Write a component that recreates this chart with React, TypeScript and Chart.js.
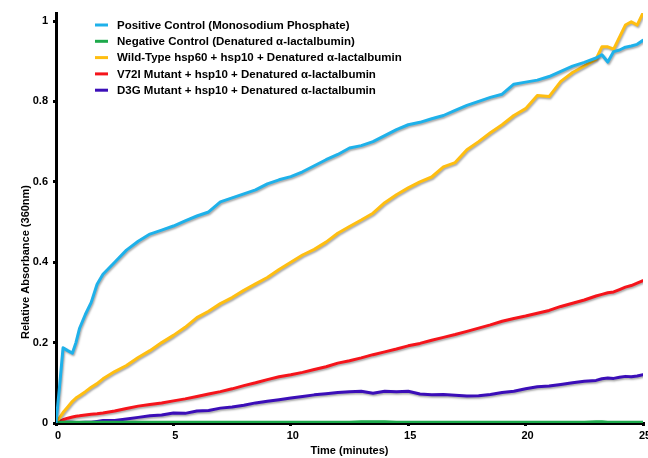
import { useEffect, useRef } from 'react';
import Chart from 'chart.js/auto';

const times = [0, 0.15, 0.3, 0.5, 0.7, 0.85, 1, 1.25, 1.5, 1.75, 2, 2.5, 3, 3.5, 4, 4.5, 5, 5.5, 6, 6.5, 7, 7.5, 8, 8.5, 9, 9.5, 10, 10.5, 11, 11.5, 12, 12.5, 13, 13.5, 14, 14.5, 15, 15.5, 16, 16.5, 17, 17.5, 18, 18.5, 19, 19.5, 20, 20.5, 21, 21.5, 22, 22.5, 23, 23.25, 23.5, 23.75, 24, 24.25, 24.5, 24.75, 25];

const positiveControl = [0, 0.09, 0.187, 0.18, 0.174, 0.2, 0.235, 0.27, 0.3, 0.345, 0.37,
  0.4, 0.43, 0.452, 0.47, 0.48, 0.49, 0.503, 0.515, 0.525, 0.55,
  0.56, 0.57, 0.58, 0.595, 0.605, 0.613, 0.625, 0.64, 0.655, 0.668,
  0.684, 0.69, 0.7, 0.715, 0.73, 0.742, 0.748, 0.757, 0.765, 0.778,
  0.79, 0.8, 0.81, 0.818, 0.843, 0.848, 0.853, 0.862, 0.875, 0.888,
  0.897, 0.908,
  0.916, 0.898, 0.924, 0.928, 0.935, 0.938, 0.942, 0.952];

const negativeControl = [0, 0.001, 0.002, 0.002, 0.002, 0.002, 0.002, 0.002, 0.002, 0.002, 0.002,
  0.002, 0.002, 0.002, 0.002, 0.002, 0.002, 0.002, 0.002, 0.002, 0.002,
  0.002, 0.002, 0.002, 0.002, 0.002, 0.002, 0.002, 0.002, 0.002, 0.002,
  0.002, 0.003, 0.003, 0.003, 0.002, 0.002, 0.002, 0.002, 0.002, 0.002,
  0.002, 0.002, 0.002, 0.002, 0.002, 0.002, 0.002, 0.002, 0.002, 0.002,
  0.002, 0.003,
  0.003, 0.002, 0.002, 0.002, 0.002, 0.002, 0.002, 0.002];

const wildType = [0, 0.013, 0.026, 0.04, 0.054, 0.062, 0.068, 0.078, 0.089, 0.098, 0.11,
  0.128, 0.143, 0.163, 0.18, 0.2, 0.218, 0.238, 0.262, 0.278, 0.297,
  0.312, 0.33, 0.346, 0.362, 0.382, 0.4, 0.418, 0.432, 0.45, 0.472,
  0.489, 0.505, 0.522, 0.548, 0.568, 0.585, 0.6, 0.612, 0.637, 0.648,
  0.68, 0.7, 0.722, 0.742, 0.765, 0.782, 0.815, 0.812, 0.85, 0.872,
  0.888, 0.905,
  0.936, 0.936, 0.93, 0.96, 0.99, 0.998, 0.99, 1.02];

const v72iMutant = [0, 0.004, 0.008, 0.012, 0.015, 0.017, 0.018, 0.02, 0.022, 0.023, 0.025,
  0.03, 0.036, 0.042, 0.046, 0.05, 0.055, 0.06, 0.066, 0.072, 0.078,
  0.085, 0.093, 0.1, 0.108, 0.115, 0.12, 0.126, 0.133, 0.14, 0.149,
  0.155, 0.162, 0.17, 0.177, 0.184, 0.192, 0.198, 0.206, 0.213, 0.22,
  0.228, 0.236, 0.244, 0.253, 0.26, 0.266, 0.273, 0.28, 0.29, 0.298,
  0.306, 0.316,
  0.32, 0.324, 0.326, 0.332, 0.338, 0.342, 0.348, 0.354];

const d3gMutant = [0, 0.001, 0.002, 0.002, 0.002, 0.001, 0.001, 0.002, 0.002, 0.004, 0.006,
  0.006, 0.01, 0.014, 0.018, 0.02, 0.025, 0.024, 0.03, 0.031, 0.037,
  0.04, 0.044, 0.05, 0.054, 0.058, 0.062, 0.066, 0.07, 0.073, 0.076,
  0.078, 0.079, 0.074, 0.079, 0.078, 0.079, 0.072, 0.07, 0.071, 0.069,
  0.067, 0.068, 0.071, 0.076, 0.079, 0.085, 0.09, 0.092, 0.096, 0.1,
  0.104, 0.106,
  0.11, 0.112, 0.111, 0.114, 0.116, 0.115, 0.117, 0.12];

const seriesNames = [
  'Positive Control (Monosodium Phosphate)',
  'Negative Control (Denatured α-lactalbumin)',
  'Wild-Type hsp60 + hsp10 + Denatured α-lactalbumin',
  'V72I Mutant + hsp10 + Denatured α-lactalbumin',
  'D3G Mutant + hsp10 + Denatured α-lactalbumin',
];
const seriesValues = [positiveControl, negativeControl, wildType, v72iMutant, d3gMutant];
const seriesColors = ['#1EB1EA', '#1DA94B', '#FFBE10', '#F5141B', '#3B0EB8'];

const xTicks = [0, 5, 10, 15, 20, 25];
const yTicks = [0, 0.2, 0.4, 0.6, 0.8, 1];
const xTitle = 'Time (minutes)';
const yTitle = 'Relative Absorbance (360nm)';

const FONT = '"Liberation Sans", Arial, sans-serif';

export default function App() {
  const ref = useRef<HTMLCanvasElement>(null);
  useEffect(() => {
    document.body.style.margin = '0';
    const shadowPlugin = {
      id: 'shadow',
      beforeDatasetsDraw(chart: any) {
        const ctx = chart.ctx;
        ctx.save();
        ctx.shadowColor = 'rgba(0,0,0,0.35)';
        ctx.shadowBlur = 2;
        ctx.shadowOffsetX = 1;
        ctx.shadowOffsetY = 1.5;
      },
      afterDatasetsDraw(chart: any) {
        chart.ctx.restore();
      },
    };
    const overlayPlugin = {
      id: 'overlay',
      afterDraw(chart: any) {
        const ctx = chart.ctx;
        const ca = chart.chartArea;
        ctx.save();
        ctx.fillStyle = '#000';
        ctx.font = `bold 11px ${FONT}`;
        ctx.textAlign = 'center';
        ctx.textBaseline = 'middle';
        ctx.fillText(xTitle, (ca.left + ca.right) / 2, 451);
        ctx.save();
        ctx.translate(25.5, 262);
        ctx.rotate(-Math.PI / 2);
        ctx.fillText(yTitle, 0, 0);
        ctx.restore();
        // legend
        ctx.font = `bold 11.5px ${FONT}`;
        ctx.textAlign = 'left';
        const y0 = 25;
        const dy = 16.3;
        seriesNames.forEach((name, i) => {
          const y = y0 + i * dy;
          ctx.strokeStyle = seriesColors[i];
          ctx.lineWidth = 3;
          ctx.beginPath();
          ctx.moveTo(95, y);
          ctx.lineTo(108, y);
          ctx.stroke();
          ctx.fillStyle = '#000';
          ctx.fillText(name, 117, y + 0.5);
        });
        ctx.restore();
      },
    };
    const chart = new Chart(ref.current!, {
      type: 'line',
      data: {
        datasets: seriesNames.map((name, i) => ({
          label: name,
          data: times.map((t, j) => ({ x: t, y: seriesValues[i][j] })),
          borderColor: seriesColors[i],
          backgroundColor: seriesColors[i],
          borderWidth: 3,
          pointRadius: 0,
          tension: 0,
          borderJoinStyle: 'round' as const,
          borderCapStyle: 'round' as const,
        })),
      },
      options: {
        responsive: false,
        animation: false,
        layout: { padding: { top: 13, right: 5, left: 0, bottom: 0 } },
        plugins: { legend: { display: false }, tooltip: { enabled: false } },
        scales: {
          x: {
            type: 'linear',
            min: 0,
            max: 25,
            afterBuildTicks: (s: any) => { s.ticks = xTicks.map((v) => ({ value: v })); },
            afterFit: (s: any) => { s.height = 35; s.paddingLeft = 0; s.paddingRight = 0; },
            ticks: {
              color: '#000',
              font: { family: FONT, size: 11, weight: 'bold' },
              padding: 3,
              labelOffset: 2,
              maxRotation: 0,
              callback: (v: any) => String(v),
            },
            grid: { drawOnChartArea: false, drawTicks: true, tickLength: 3, color: '#000', lineWidth: 3 },
            border: { display: true, color: '#000', width: 3 },
          },
          y: {
            type: 'linear',
            min: 0,
            max: 1.02,
            afterBuildTicks: (s: any) => { s.ticks = yTicks.map((v) => ({ value: v })); },
            afterFit: (s: any) => { s.width = 56; s.paddingTop = 0; s.paddingBottom = 0; },
            ticks: {
              color: '#000',
              font: { family: FONT, size: 11, weight: 'bold' },
              padding: 5,
              callback: (v: any) => String(Math.round(v * 10) / 10),
            },
            grid: { drawOnChartArea: false, drawTicks: true, tickLength: 3, color: '#000', lineWidth: 3 },
            border: { display: true, color: '#000', width: 3 },
          },
        },
      },
      plugins: [shadowPlugin, overlayPlugin],
    });
    return () => chart.destroy();
  }, []);
  return (
    <div style={{ position: 'absolute', left: 0, top: 0, width: 648, height: 458 }}>
      <canvas ref={ref} width={648} height={458} style={{ display: 'block' }} />
    </div>
  );
}
